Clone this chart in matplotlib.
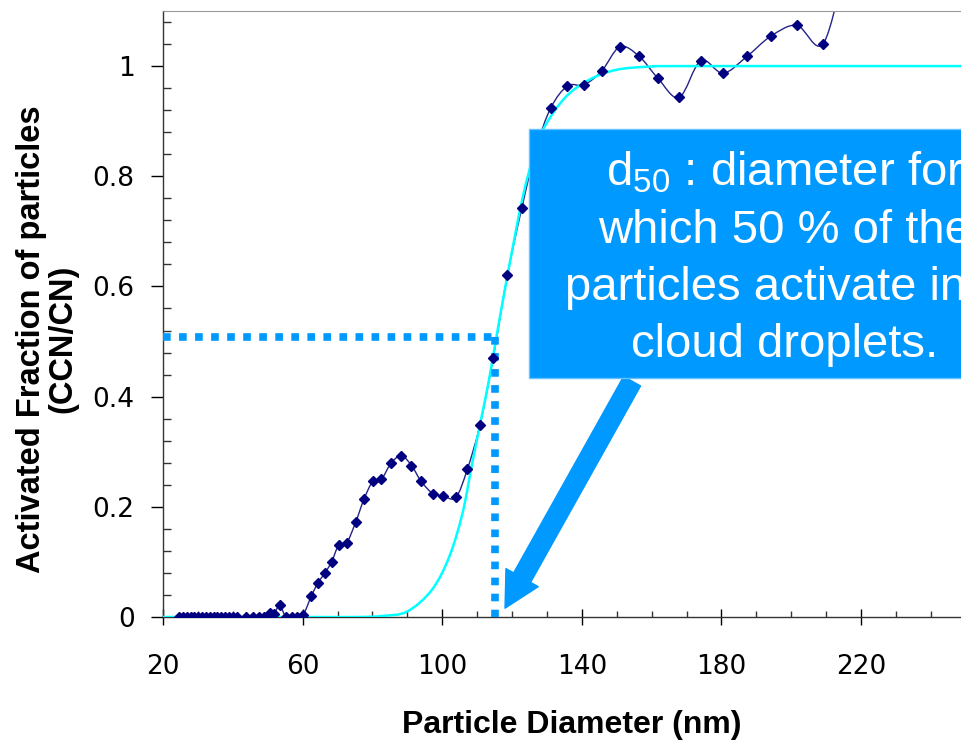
import numpy as np
import matplotlib
matplotlib.use("Agg")
import matplotlib.pyplot as plt
from matplotlib.path import Path
from matplotlib.patches import PathPatch, Rectangle
from matplotlib.ticker import FixedLocator, MultipleLocator

plt.rcParams['mathtext.fontset'] = 'custom'
plt.rcParams['mathtext.rm'] = 'Liberation Sans'
plt.rcParams['mathtext.it'] = 'Liberation Sans:italic'
plt.rcParams['mathtext.default'] = 'rm'

# measured activated fraction (navy diamonds)
diam_nm = [24.6, 25.7, 26.8, 27.9, 29.0, 30.1, 31.2, 32.3, 33.4, 34.5,
           35.6, 36.7, 37.8, 38.9, 40.0, 41.3, 43.7, 45.8, 47.5, 48.9,
           50.6, 51.8, 53.4, 55.2, 56.9, 58.5, 60.2, 62.5, 64.4, 66.4,
           68.3, 70.4, 72.6, 75.2, 77.6, 80.1, 82.6, 85.3, 88.3, 91.2,
           94.0, 97.3, 100.2, 103.9, 107.2, 110.8, 114.6, 118.7, 122.8, 126.9,
           131.1, 135.9, 140.6, 145.7, 150.9, 156.4, 161.8, 167.9, 174.1, 180.5,
           187.4, 194.1, 201.6, 209.2, 216.0]
act_frac = [0, 0, 0, 0, 0, 0, 0, 0, 0, 0,
            0, 0, 0, 0, 0, 0, 0, 0, 0, 0,
            0.008, 0.005, 0.021, 0, 0, 0, 0.004, 0.038, 0.062, 0.080,
            0.100, 0.131, 0.134, 0.172, 0.214, 0.246, 0.250, 0.279, 0.293, 0.275,
            0.246, 0.224, 0.220, 0.217, 0.268, 0.348, 0.470, 0.621, 0.742, 0.850,
            0.924, 0.964, 0.966, 0.991, 1.035, 1.018, 0.978, 0.943, 1.010, 0.987,
            1.018, 1.054, 1.074, 1.041, 1.200]

# fitted curve (cyan)
fit_nm = [19, 60, 76, 83, 90, 97, 102, 105.8, 108.6, 111.5, 113.4, 115.3,
          118.7, 122.9, 126.5, 129.6, 135.4, 142.1, 149.7, 159.3, 170, 250]
fit_frac = [0, 0, 0, 0.002, 0.01, 0.049, 0.109, 0.188, 0.279, 0.37, 0.43, 0.5,
            0.62, 0.757, 0.845, 0.893, 0.944, 0.975, 0.993, 0.999, 1.0, 1.0]

d50 = 115.1
d50_frac = 0.508

x_ticks = [20, 60, 100, 140, 180, 220]
y_ticks = [0, 0.2, 0.4, 0.6, 0.8, 1.0]
y_tick_labels = ['0', '0.2', '0.4', '0.6', '0.8', '1']

box_lines = [r'd$_{50}$ : diameter for', 'which 50 % of the',
             'particles activate into', 'cloud droplets.']

blue = '#0099ff'


def smooth_path(xs, ys):
    # Catmull-Rom style bezier through the points (like Excel's smoothed line)
    pts = np.column_stack([xs, ys]).astype(float)
    n = len(pts)
    verts = [pts[0]]
    codes = [Path.MOVETO]
    for i in range(n - 1):
        p0 = pts[i - 1] if i > 0 else pts[i]
        p1 = pts[i]
        p2 = pts[i + 1]
        p3 = pts[i + 2] if i + 2 < n else pts[i + 1]
        verts += [p1 + (p2 - p0) / 6, p2 - (p3 - p1) / 6, p2]
        codes += [Path.CURVE4] * 3
    return Path(verts, codes)


fig = plt.figure(figsize=(9.61, 7.42), dpi=100)
ax = fig.add_axes([163 / 961, 125 / 742, 1 - 163 / 961, 606 / 742])

ax.add_patch(PathPatch(smooth_path(diam_nm, act_frac), fill=False,
                       ec='#23238a', lw=1.0, zorder=2))
ax.add_patch(PathPatch(smooth_path(fit_nm, fit_frac), fill=False,
                       ec='#00ffff', lw=1.8, zorder=3))
ax.plot(diam_nm, act_frac, ls='none', marker='D', ms=5, color='#000080',
        zorder=4)

# d50 guide lines
ax.plot([20, d50], [d50_frac, d50_frac], color=blue, lw=5.5,
        ls=(0, (1, 1.1)), dash_capstyle='butt', zorder=3.5, clip_on=False)
ax.plot([d50, d50], [d50_frac, 0], color=blue, lw=5.5,
        ls=(0, (1, 1.1)), dash_capstyle='butt', zorder=3.5)

# annotation box + arrow
ax.add_patch(Rectangle((124.9, 0.434), 150, 0.452, fc=blue, ec='#66c2ff',
                       lw=1, zorder=5, clip_on=False))
for line, yb in zip(box_lines, [0.784, 0.679, 0.575, 0.472]):
    ax.text(198.2, yb, line, color='white', fontsize=34, ha='center',
            va='baseline', family='Liberation Sans', zorder=6, clip_on=False)
ax.annotate('', xy=(118.0, 0.016), xytext=(154.4, 0.428),
            arrowprops=dict(arrowstyle='simple,head_length=1.8,head_width=1.9,tail_width=1.0',
                            mutation_scale=14, color=blue, shrinkA=0, shrinkB=0),
            zorder=4)

ax.set_xlim(20, 20 + 798 / 3.49)
ax.set_ylim(0, 1.1)

ax.xaxis.set_major_locator(FixedLocator(x_ticks))
ax.xaxis.set_minor_locator(MultipleLocator(10))
ax.yaxis.set_major_locator(FixedLocator(y_ticks))
ax.set_yticklabels(y_tick_labels)
ax.yaxis.set_minor_locator(MultipleLocator(0.04))

ax.spines['right'].set_visible(False)
ax.spines['top'].set_color('#999999')
for s in ['left', 'bottom']:
    ax.spines[s].set_color('#333333')
    ax.spines[s].set_linewidth(1)

ax.tick_params(axis='y', which='major', direction='out', length=8.5, width=1,
               pad=12, labelsize=19, colors='black')
ax.tick_params(axis='y', which='minor', direction='in', length=6, width=1,
               color='#333333')
ax.tick_params(axis='x', which='major', direction='inout', length=12, width=1,
               pad=21, labelsize=19, colors='black')
ax.tick_params(axis='x', which='minor', direction='in', length=4.5, width=1,
               color='#333333')

fig.text(572 / 961, 9 / 742, 'Particle Diameter (nm)', ha='center',
         va='baseline', fontsize=23, fontweight='bold', family='Liberation Sans')
fig.text(47 / 961, 403 / 742, 'Activated Fraction of particles\n(CCN/CN)',
         rotation=90, ha='center', va='center', multialignment='center',
         fontsize=23.5, fontweight='bold', family='Liberation Sans', linespacing=1.0)

fig.savefig('out.png', dpi=100)
